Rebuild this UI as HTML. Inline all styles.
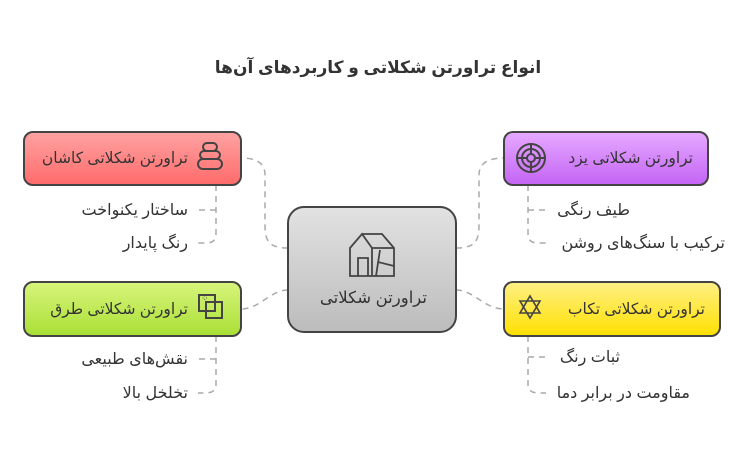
<!DOCTYPE html>
<html><head><meta charset="utf-8"><style>
body{margin:0;background:#fff;width:756px;height:456px;overflow:hidden}
text{font-family:"Liberation Sans","DejaVu Sans",sans-serif;fill:#333}
</style></head><body>
<svg width="756" height="456" xmlns="http://www.w3.org/2000/svg">
<defs>
<linearGradient id="r" x1="0" y1="0" x2="0" y2="1"><stop offset="0" stop-color="#ffa3a3"/><stop offset="1" stop-color="#ff6a6a"/></linearGradient>
<linearGradient id="g" x1="0" y1="0" x2="0" y2="1"><stop offset="0" stop-color="#d8f57c"/><stop offset="1" stop-color="#a9df35"/></linearGradient>
<linearGradient id="p" x1="0" y1="0" x2="0" y2="1"><stop offset="0" stop-color="#e6aaff"/><stop offset="1" stop-color="#c464f5"/></linearGradient>
<linearGradient id="y" x1="0" y1="0" x2="0" y2="1"><stop offset="0" stop-color="#fff085"/><stop offset="1" stop-color="#ffe000"/></linearGradient>
<linearGradient id="c" x1="0" y1="0" x2="0" y2="1"><stop offset="0" stop-color="#e2e2e2"/><stop offset="1" stop-color="#bcbcbc"/></linearGradient>
</defs>
<text x="378" y="73" text-anchor="middle" font-size="17" font-weight="bold" direction="rtl">انواع تراورتن شکلاتی و کاربردهای آن‌ها</text>
<g fill="none" stroke="#aaa" stroke-width="1.5" stroke-dasharray="6,5">
<path d="M288 248 C268 248 265 240 265 225 L265 175 C265 162 255 158 241 158"/>
<path d="M288 290 C270 290 260 309 241 309"/>
<path d="M456 248 C476 248 479 240 479 225 L479 175 C479 162 490 158 504 158"/>
<path d="M456 290 C474 290 484 309 504 309"/>
<path d="M216 185 L216 235 Q216 243 205 243 L198 243 M216 210 L198 210"/>
<path d="M216 336 L216 385 Q216 393 205 393 L198 393 M216 359 L198 359"/>
<path d="M528 185 L528 235 Q528 243 539 243 L546 243 M528 210 L546 210"/>
<path d="M528 336 L528 385 Q528 393 539 393 L546 393 M528 357 L546 357"/>
</g>
<g stroke="#444" stroke-width="2">
<rect x="24" y="132" width="217" height="53" rx="9" fill="url(#r)"/>
<rect x="24" y="282" width="217" height="54" rx="9" fill="url(#g)"/>
<rect x="504" y="132" width="204" height="53" rx="9" fill="url(#p)"/>
<rect x="504" y="282" width="216" height="54" rx="9" fill="url(#y)"/>
<rect x="288" y="207" width="168" height="125" rx="16" fill="url(#c)"/>
</g>
<g fill="none" stroke="#444" stroke-width="2">
<rect x="203" y="143" width="14" height="8" rx="4"/><rect x="200" y="151" width="20" height="8" rx="4"/><rect x="198" y="159" width="24" height="10" rx="5"/>
<rect x="199" y="295" width="16" height="16"/><rect x="206" y="302" width="16" height="16"/>
<circle cx="531" cy="158" r="14"/><circle cx="531" cy="158" r="9"/><circle cx="531" cy="158" r="4"/>
<path d="M531 144v10M531 162v10M517 158h10M535 158h10"/>
<path d="M520 301 L540 301 L530 318 Z M520 313 L540 313 L530 296 Z" stroke-width="1.6"/>
<path d="M350 248 L350 276 L394 276 L394 248 L382 234 L362 234 Z M350 248 L362 234 L372 248 L394 248 M358 276 L358 258 L368 258 L368 276 M372 248 L372 276 M378 262 L394 266 M380 250 L376 276" stroke-width="1.8"/>
</g>
<g font-size="9" fill="#444"><text x="201" y="301">⁘</text></g>
<g font-size="15.5" direction="rtl">
<text x="188" y="163">تراورتن شکلاتی کاشان</text>
<text x="188" y="314">تراورتن شکلاتی طرق</text>
<text x="693" y="163">تراورتن شکلاتی یزد</text>
<text x="705" y="314">تراورتن شکلاتی تکاب</text>
</g>
<g font-size="16" direction="rtl">
<text x="427" y="303" font-size="16.5">تراورتن شکلاتی</text>
<text x="188" y="215">ساختار یکنواخت</text>
<text x="188" y="248">رنگ پایدار</text>
<text x="188" y="364">نقش‌های طبیعی</text>
<text x="188" y="398">تخلخل بالا</text>
<text x="630" y="215">طیف رنگی</text>
<text x="725" y="248">ترکیب با سنگ‌های روشن</text>
<text x="620" y="362">ثبات رنگ</text>
<text x="690" y="398">مقاومت در برابر دما</text>
</g>
</svg>
</body></html>
